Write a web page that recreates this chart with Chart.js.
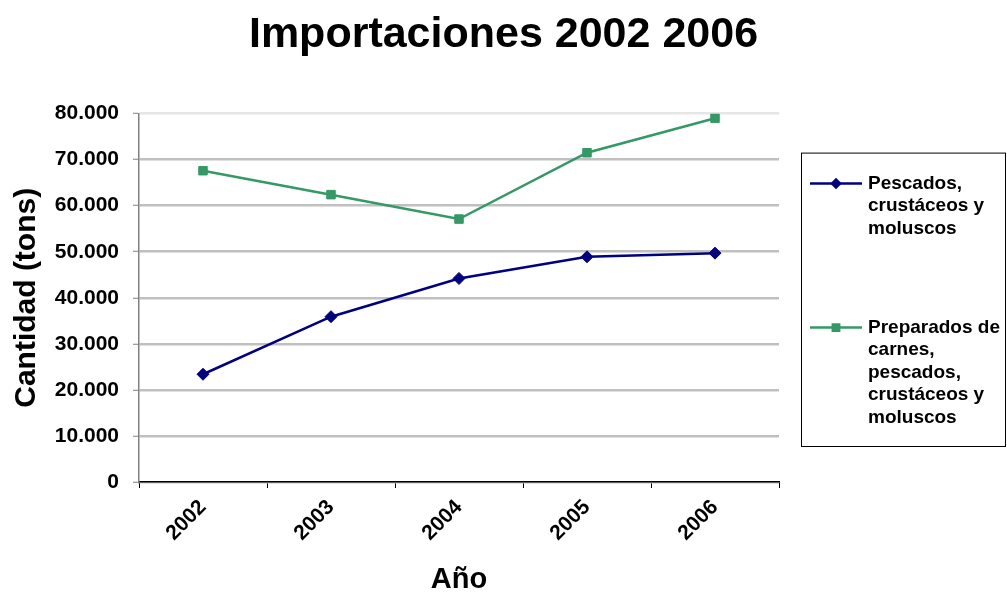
<!DOCTYPE html>
<html>
<head>
<meta charset="utf-8">
<title>Importaciones 2002 2006</title>
<script src="https://cdn.jsdelivr.net/npm/chart.js@4.4.0/dist/chart.umd.min.js"></script>
<style>
  html, body { margin: 0; padding: 0; background: #fff; }
</style>
</head>
<body>
<canvas id="importChart" width="1007" height="598"></canvas>
<script>
// Toneladas importadas por año
const years = ['2002', '2003', '2004', '2005', '2006'];
const pescados = [23400, 35900, 44200, 48900, 49700];
const preparados = [67600, 62400, 57100, 71500, 79000];

const seriesLines = [
    ['Pescados,', 'crustáceos y', 'moluscos'],
    ['Preparados de', 'carnes,', 'pescados,', 'crustáceos y', 'moluscos']
];

const FONT = 'Arial, "Liberation Sans", sans-serif';
const NAVY = '#000080';
const GREEN = '#339966';

function fmtMiles(v) {
    return String(v).replace(/\B(?=(\d{3})+(?!\d))/g, '.');
}

// Legend with wrapped labels, drawn inside a framed box right of the plot
const boxLegend = {
    id: 'boxLegend',
    afterDraw(chart) {
        const ctx = chart.ctx;
        const area = chart.chartArea;
        const left = area.right + 22;
        const top = area.top + 39;
        const right = chart.width - 2;
        const bottom = area.bottom - 36;

        ctx.save();
        ctx.strokeStyle = '#000';
        ctx.lineWidth = 1;
        ctx.strokeRect(left + 0.5, top + 0.5, right - left, bottom - top);

        const rowY = [top + 31, top + 175];
        const lineH = 22.5;
        ctx.font = 'bold 19px ' + FONT;
        ctx.textBaseline = 'middle';
        ctx.textAlign = 'left';

        chart.data.datasets.forEach((ds, i) => {
            const y = rowY[i];
            ctx.strokeStyle = ds.borderColor;
            ctx.lineWidth = 2.5;
            ctx.beginPath();
            ctx.moveTo(left + 9, y);
            ctx.lineTo(left + 61, y);
            ctx.stroke();
            Chart.helpers.drawPoint(ctx, {
                pointStyle: ds.pointStyle,
                radius: ds.pointStyle === 'rect' ? 4.5 : 4,
                borderWidth: 1
            }, left + 35, y);
            ctx.fillStyle = ds.borderColor;
            ctx.fill();

            ctx.fillStyle = '#000';
            seriesLines[i].forEach((txt, k) => {
                ctx.fillText(txt, left + 67, y + k * lineH);
            });
        });
        ctx.restore();
    }
};

const ctx = document.getElementById('importChart').getContext('2d');
const importChart = new Chart(ctx, {
    type: 'line',
    data: {
        labels: years,
        datasets: [{
            label: seriesLines[0].join(' '),
            data: pescados,
            borderColor: NAVY,
            backgroundColor: NAVY,
            borderWidth: 2.5,
            pointStyle: 'rectRot',
            pointRadius: 6,
            pointBorderWidth: 1,
            tension: 0
        }, {
            label: seriesLines[1].join(' '),
            data: preparados,
            borderColor: GREEN,
            backgroundColor: GREEN,
            borderWidth: 2.5,
            pointStyle: 'rect',
            pointRadius: 6,
            pointBorderWidth: 1,
            tension: 0
        }]
    },
    options: {
        responsive: false,
        animation: false,
        layout: {
            padding: 0
        },
        plugins: {
            legend: { display: false },
            tooltip: { enabled: false },
            title: {
                display: true,
                text: 'Importaciones 2002 2006',
                color: '#000',
                font: { family: FONT, size: 43, weight: 'bold' },
                padding: { top: 9, bottom: 53 }
            }
        },
        scales: {
            x: {
                offset: true,
                afterFit(scale) { scale.height = 116; },
                grid: {
                    offset: true,
                    drawOnChartArea: false,
                    tickLength: 6,
                    color: '#000',
                    lineWidth: 1
                },
                border: { color: '#000', width: 1.5 },
                ticks: {
                    color: '#000',
                    font: { family: FONT, size: 21, weight: 'bold' },
                    minRotation: 45,
                    maxRotation: 45,
                    padding: 7
                },
                title: {
                    display: true,
                    text: 'Año',
                    color: '#000',
                    font: { family: FONT, size: 29, weight: 'bold' },
                    padding: { top: 4, bottom: 1 }
                }
            },
            y: {
                min: 0,
                max: 80000,
                afterFit(scale) { scale.width = 139; },
                grid: {
                    color: ctx => ctx.tick && ctx.tick.value === 80000 ? '#e6e6e6' : '#c0c0c0',
                    lineWidth: 2.5,
                    tickLength: 6,
                    tickColor: '#808080',
                    tickWidth: 1
                },
                border: { color: '#808080', width: 1.5 },
                ticks: {
                    stepSize: 10000,
                    color: '#000',
                    padding: 14,
                    font: { family: FONT, size: 21, weight: 'bold' },
                    callback: v => fmtMiles(v)
                },
                title: {
                    display: true,
                    text: 'Cantidad (tons)',
                    color: '#000',
                    font: { family: FONT, size: 30, weight: 'bold' },
                    padding: { top: 9, bottom: 0 }
                }
            },
            // empty right-hand axis that reserves room for the legend box
            legendSpace: {
                type: 'linear',
                position: 'right',
                afterFit(scale) { scale.width = 228; },
                grid: { display: false, drawOnChartArea: false },
                border: { display: false },
                ticks: { display: false }
            }
        }
    },
    plugins: [boxLegend]
});
</script>
</body>
</html>
